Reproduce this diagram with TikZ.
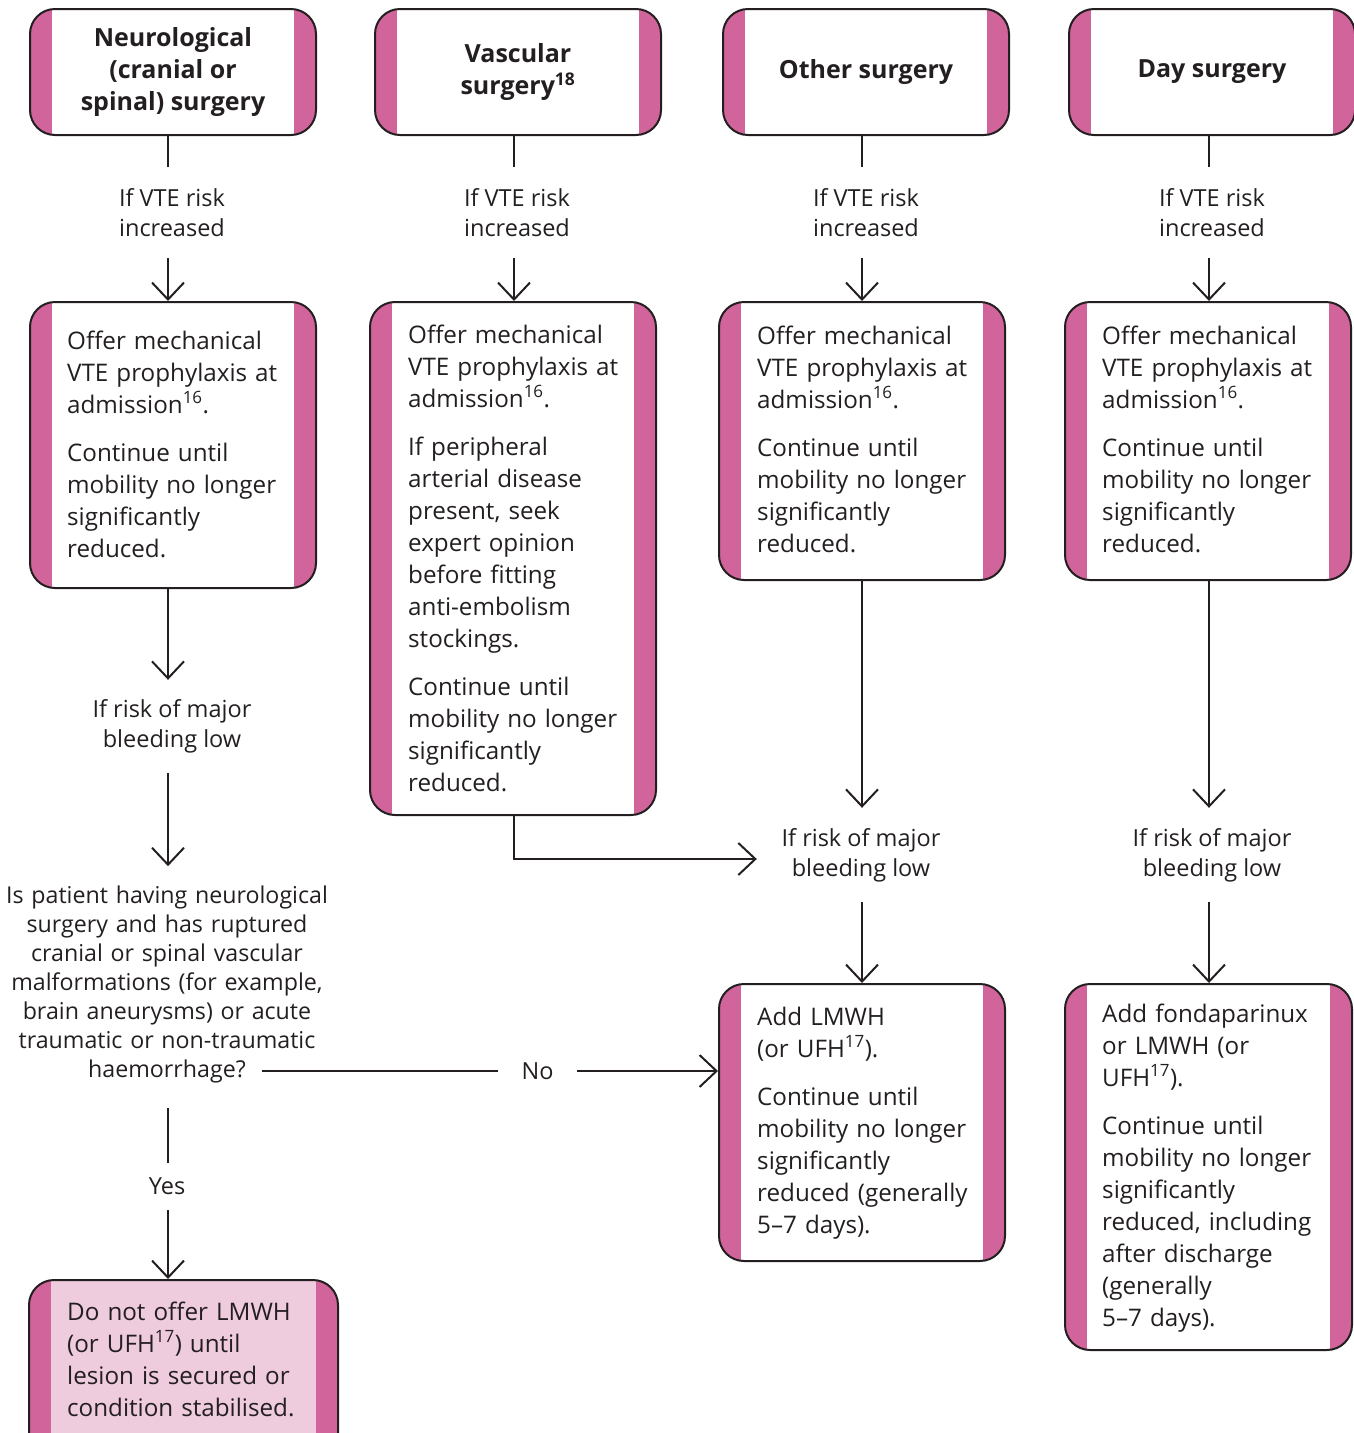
\documentclass[tikz,border=0pt]{standalone}
\usepackage{fontspec}
\setmainfont{Open Sans}
\usetikzlibrary{arrows.meta}
\definecolor{ink}{HTML}{231F20}
\definecolor{pinkc}{HTML}{D0649B}
\definecolor{lpink}{HTML}{EFCBDE}
\newcommand\mybody{\fontsize{24.2}{32}\selectfont}
\newcommand\mylbl{\fontsize{23.5}{30}\selectfont}
\newcommand\myq{\fontsize{23.2}{29}\selectfont}
\newcommand\myttl{\fontsize{25}{32}\selectfont\bfseries}
\begin{document}
\begin{tikzpicture}[x=1pt,y=-1pt,
  pbox/.style={draw=ink, line width=2pt, rounded corners=25pt, fill=white, inner sep=0pt,
    text=ink,
    path picture={
      \fill[pinkc, sharp corners] (path picture bounding box.south west) rectangle ([xshift=22pt]path picture bounding box.north west);
      \fill[pinkc, sharp corners] ([xshift=-22pt]path picture bounding box.south east) rectangle (path picture bounding box.north east);
    }},
  ttl/.style={pbox, minimum width=286pt, minimum height=126pt, font=\myttl, align=center},
  body/.style={anchor=base west, align=left, text width=260pt, inner sep=0pt, font=\mybody, text=ink},
  lbl/.style={align=center, inner sep=0pt, font=\mylbl, text=ink},
  conn/.style={draw=ink, line width=2pt},
  arr/.style={conn, -{Straight Barb[length=17pt,width=32pt]}}
]
\useasboundingbox (0,0) rectangle (1354,1433);
\clip (0,0) rectangle (1354,1433);

% column lines
\coordinate (x1) at (168,0);
\coordinate (x2) at (514,0);
\coordinate (x3) at (862,0);
\coordinate (x4) at (1209,0);

% top row
\node[ttl] (t1) at (173,72) {Neurological\\(cranial or\\spinal) surgery};
\node[ttl] (t2) at (518,72) {Vascular\\surgery\textsuperscript{18}};
\node[ttl] (t3) at (866,72) {Other surgery};
\node[ttl] (t4) at (1212,72) {Day surgery};

% second row
\node[pbox, minimum width=286pt, minimum height=286pt] (b1) at (173,445) {};
\node[pbox, minimum width=286pt, minimum height=513pt] (b2) at (513,558.5) {};
\node[pbox, minimum width=286pt, minimum height=278pt] (b3) at (862,441) {};
\node[pbox, minimum width=286pt, minimum height=278pt] (b4) at (1208,441) {};

% third row
\node[pbox, minimum width=286pt, minimum height=277pt] (c3) at (862,1122.5) {};
\node[pbox, minimum width=287pt, minimum height=366pt] (c4) at (1208.5,1167) {};
\node[pbox, fill=lpink, minimum width=309pt, minimum height=180pt] (d1) at (183.5,1370) {};

% box texts
\node[body] (tx1) at (67,349) {Offer mechanical\\VTE prophylaxis at\\admission\textsuperscript{16}.\\[16pt]Continue until\\mobility no longer\\significantly\\reduced.};
\node[body] (tx2) at (408,343) {Offer mechanical\\VTE prophylaxis at\\admission\textsuperscript{16}.\\[16pt]If peripheral\\arterial disease\\present, seek\\expert opinion\\before fitting\\anti-embolism\\stockings.\\[16pt]Continue until\\mobility no longer\\significantly\\reduced.};
\node[body] (tx3) at (757,344) {Offer mechanical\\VTE prophylaxis at\\admission\textsuperscript{16}.\\[16pt]Continue until\\mobility no longer\\significantly\\reduced.};
\node[body] (tx4) at (1102,344) {Offer mechanical\\VTE prophylaxis at\\admission\textsuperscript{16}.\\[16pt]Continue until\\mobility no longer\\significantly\\reduced.};
\node[body] (tx3c) at (757,1025) {Add LMWH\\(or UFH\textsuperscript{17}).\\[16pt]Continue until\\mobility no longer\\significantly\\reduced (generally\\5–7 days).};
\node[body] (tx4c) at (1102,1022) {Add fondaparinux\\or LMWH (or\\UFH\textsuperscript{17}).\\[16pt]Continue until\\mobility no longer\\significantly\\reduced, including\\after discharge\\(generally\\5–7 days).};
\node[body] (tx1c) at (67,1320) {Do not offer LMWH\\(or UFH\textsuperscript{17}) until\\lesion is secured or\\condition stabilised.};

% labels
\node[lbl, minimum height=91pt] (l1) at (172,212.5) {If VTE risk\\increased};
\node[lbl, minimum height=91pt] (l2) at (517,212.5) {If VTE risk\\increased};
\node[lbl, minimum height=91pt] (l3) at (866,212.5) {If VTE risk\\increased};
\node[lbl, minimum height=91pt] (l4) at (1212,212.5) {If VTE risk\\increased};
\node[lbl, minimum height=93pt] (m1) at (172,726.5) {If risk of major\\bleeding low};
\node[lbl, minimum width=208pt, minimum height=94pt] (m3) at (861,855) {If risk of major\\bleeding low};
\node[lbl, minimum width=208pt, minimum height=94pt] (m4) at (1212,855) {If risk of major\\bleeding low};
\node[lbl, font=\myq, text width=360pt, anchor=base, inner ysep=19pt] (q) at (167,903) {Is patient having neurological\\surgery and has ruptured\\cranial or spinal vascular\\malformations (for example,\\brain aneurysms) or acute\\traumatic or non-traumatic\\haemorrhage?};
\node[lbl, minimum height=47pt] (yes) at (167,1186.5) {Yes};
\node[lbl, minimum width=79pt] (no) at (537.5,1071) {No};
\coordinate (qno) at (262,1071);

% connectors
\draw[conn] (t1.south -| x1) -- (l1.north -| x1);
\draw[arr] (l1.south -| x1) -- (b1.north -| x1);
\draw[conn] (t2.south -| x2) -- (l2.north -| x2);
\draw[arr] (l2.south -| x2) -- (b2.north -| x2);
\draw[conn] (t3.south -| x3) -- (l3.north -| x3);
\draw[arr] (l3.south -| x3) -- (b3.north -| x3);
\draw[conn] (t4.south -| x4) -- (l4.north -| x4);
\draw[arr] (l4.south -| x4) -- (b4.north -| x4);

\draw[arr] (b1.south -| x1) -- (m1.north -| x1);
\draw[arr] (m1.south -| x1) -- (q.north -| x1);
\draw[conn, shorten <=6pt] (q.south -| x1) -- (yes.north -| x1);
\draw[arr] (yes.south -| x1) -- (d1.north -| x1);
\draw[conn] (qno) -- (no);
\draw[arr] (no) -- (c3.west |- no);

\draw[arr] (b2.south -| x2) |- ([yshift=-4pt]m3.west);
\draw[arr] (b3.south -| x3) -- (m3.north -| x3);
\draw[arr] (m3.south -| x3) -- (c3.north -| x3);
\draw[arr] (b4.south -| x4) -- (m4.north -| x4);
\draw[arr] (m4.south -| x4) -- (c4.north -| x4);
\end{tikzpicture}
\end{document}
